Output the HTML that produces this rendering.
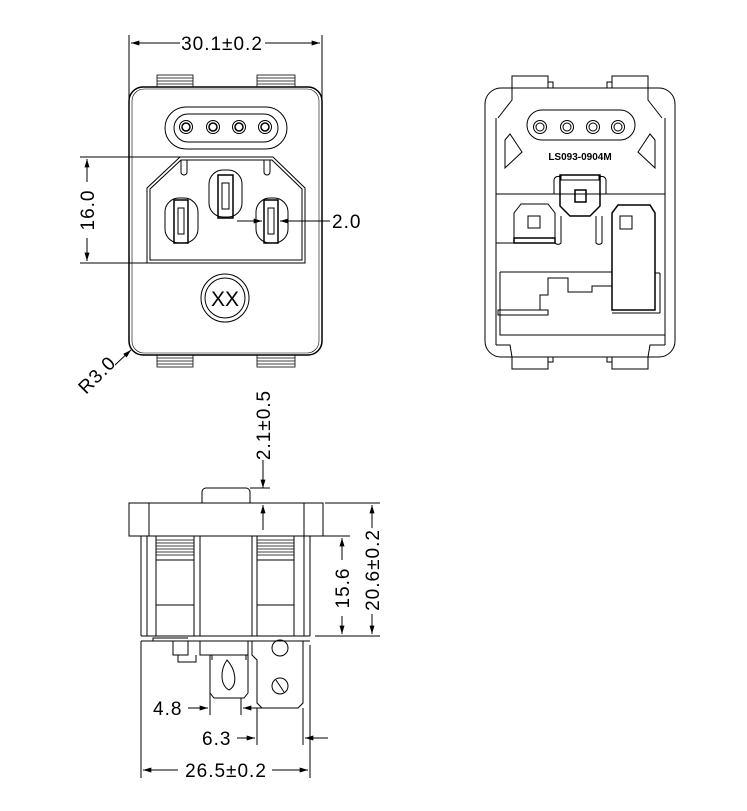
<!DOCTYPE html>
<html><head><meta charset="utf-8"><style>
html,body{margin:0;padding:0;background:#fff;}
svg{display:block;}
text{font-family:"Liberation Sans",sans-serif;fill:#000;}
.d{font-size:19px;letter-spacing:1px;}
</style></head><body>
<svg width="747" height="811" viewBox="0 0 747 811" xmlns="http://www.w3.org/2000/svg">
<defs>
<marker id="a" viewBox="0 0 10 6" refX="10" refY="3" markerWidth="10" markerHeight="5" orient="auto-start-reverse" markerUnits="userSpaceOnUse"><path d="M0,0 L10,3 L0,6z" fill="#000"/></marker>
</defs>
<g fill="none" stroke="#000" stroke-width="1">
<line x1="129" y1="35" x2="129" y2="100"/><line x1="322" y1="35" x2="322" y2="100"/>
<line x1="131" y1="43" x2="180" y2="43" marker-start="url(#a)"/><line x1="265" y1="43" x2="320" y2="43" marker-end="url(#a)"/>
<g stroke-width="0.8">
<rect x="157" y="75" width="36" height="12"/><rect x="257" y="75" width="38" height="12"/>
<rect x="157" y="355" width="36" height="12"/><rect x="257" y="355" width="38" height="12"/>
<line x1="157" y1="78" x2="193" y2="78"/><line x1="157" y1="81" x2="193" y2="81"/><line x1="157" y1="84" x2="193" y2="84"/>
<line x1="257" y1="78" x2="295" y2="78"/><line x1="257" y1="81" x2="295" y2="81"/><line x1="257" y1="84" x2="295" y2="84"/>
<line x1="157" y1="358" x2="193" y2="358"/><line x1="157" y1="361" x2="193" y2="361"/><line x1="157" y1="364" x2="193" y2="364"/>
<line x1="257" y1="358" x2="295" y2="358"/><line x1="257" y1="361" x2="295" y2="361"/><line x1="257" y1="364" x2="295" y2="364"/>
</g>
<rect x="129" y="87" width="193" height="268" rx="14" stroke-width="1.5"/>
<rect x="132" y="89" width="187" height="264" rx="12" stroke-width="0.6"/>
<rect x="165" y="107" width="122" height="42" rx="21"/>
<rect x="174" y="114" width="104" height="28" rx="14"/>
<circle cx="186" cy="127" r="6.5"/><circle cx="186" cy="127" r="4" stroke-width="1.5"/>
<circle cx="213" cy="127" r="6.5"/><circle cx="213" cy="127" r="4" stroke-width="1.5"/>
<circle cx="239" cy="127" r="6.5"/><circle cx="239" cy="127" r="4" stroke-width="1.5"/>
<circle cx="265" cy="127" r="6.5"/><circle cx="265" cy="127" r="4" stroke-width="1.5"/>
<path d="M180,157 L273,157 L305,188 L305,263 L147,263 L147,188 Z"/>
<path d="M181,160 L272,160 L302,189 L302,260 L150,260 L150,189 Z"/>
<path d="M181,160 L181,172 a2,2 0 0 0 6,0 L187,160"/><path d="M264,160 L264,172 a2,2 0 0 0 6,0 L270,160"/>
<rect x="209" y="170" width="33" height="47" rx="14"/><rect x="218" y="175" width="15" height="43" stroke-width="1.5"/><rect x="222" y="183" width="7" height="26"/>
<rect x="165" y="198" width="33" height="45" rx="14"/><rect x="174" y="200" width="14" height="43" stroke-width="1.5"/><rect x="178" y="208" width="6" height="26"/>
<rect x="256" y="198" width="32" height="45" rx="14"/><rect x="264" y="200" width="14" height="43" stroke-width="1.5"/><rect x="268" y="208" width="6" height="26"/>
<line x1="237" y1="221" x2="262" y2="221" marker-end="url(#a)"/><line x1="330" y1="221" x2="280" y2="221" marker-end="url(#a)"/>
<line x1="80" y1="157" x2="180" y2="157"/><line x1="80" y1="263" x2="147" y2="263"/>
<line x1="87" y1="182" x2="87" y2="159" marker-end="url(#a)"/><line x1="87" y1="238" x2="87" y2="261" marker-end="url(#a)"/>
<circle cx="225" cy="298" r="24"/><circle cx="225" cy="298" r="20"/>
<line x1="115" y1="365" x2="131" y2="350" marker-end="url(#a)"/>

<rect x="485" y="88" width="190" height="269" rx="16"/>
<path d="M512,88 L512,76 L548,76 L548,88 M612,88 L612,76 L648,76 L648,88"/>
<path d="M512,357 L512,369 L548,369 L548,357 M612,357 L612,369 L648,369 L648,357"/>
<path d="M512,88 L512,100 L498,118 M648,88 L648,100 L662,118"/>
<path d="M548,76 L548,82 L553,82 L553,88 M612,76 L612,82 L607,82 L607,88"/>
<path d="M548,369 L548,362 L553,362 L553,357 M612,369 L612,362 L607,362 L607,357"/>
<line x1="496" y1="118" x2="496" y2="345"/><line x1="665" y1="118" x2="665" y2="345"/>
<path d="M496,345 L510,345 L512,357 M665,345 L650,345 L648,357"/>
<rect x="527" y="110" width="108" height="30" rx="15"/>
<circle cx="540" cy="127" r="6.5"/><circle cx="540" cy="127" r="4"/>
<circle cx="567" cy="127" r="6.5"/><circle cx="567" cy="127" r="4"/>
<circle cx="593" cy="127" r="6.5"/><circle cx="593" cy="127" r="4"/>
<circle cx="618" cy="127" r="6.5"/><circle cx="618" cy="127" r="4"/>
<path d="M505,140 L510,134 L522,152 L505,168 Z"/>
<path d="M655,140 L650,134 L638,152 L655,168 Z"/>
<line x1="496" y1="194" x2="665" y2="194"/>
<path d="M560,175 L600,175 L600,206 L590,216 L570,216 L560,206 Z" stroke-width="1.5"/>
<rect x="561" y="175" width="38" height="5"/>
<rect x="575" y="190" width="11" height="12" stroke-width="1.5"/>
<path d="M554,194 L554,180 a4,4 0 0 1 6,-3 M606,194 L606,180 a4,4 0 0 0 -6,-3"/>
<path d="M514,243 L514,213 L521,204 L548,204 L555,213 L555,243 Z"/>
<rect x="514" y="238" width="41" height="5" stroke-width="1.5"/>
<rect x="528" y="216" width="12" height="12"/>
<path d="M555,220 L555,243 a4,4 0 0 0 6,0 L561,216 M596,216 L596,243 a4,4 0 0 0 6,0 L602,216"/>
<line x1="496" y1="243" x2="514" y2="243"/>
<path d="M612,310 L612,213 L618,205 L650,205 L655,213 L655,310 Z" stroke-width="1.5"/>
<rect x="620" y="216" width="12" height="13"/>
<path d="M500,272 L612,272 M500,272 L500,335 L665,335"/>
<path d="M498,310 L540,310 L540,295 L548,295 L548,278 L568,278 L568,292 L592,292 L592,286 L612,286"/>
<rect x="498" y="310" width="50" height="5"/>
<line x1="655" y1="273" x2="660" y2="273"/><line x1="660" y1="273" x2="660" y2="313"/><line x1="612" y1="313" x2="660" y2="313"/>

<line x1="263" y1="460" x2="263" y2="488" marker-end="url(#a)"/>
<line x1="250" y1="488" x2="270" y2="488"/>
<line x1="263" y1="530" x2="263" y2="505" marker-end="url(#a)"/>
<path d="M202,503 L202,492 a4,4 0 0 1 4,-4 L246,488 a4,4 0 0 1 4,4 L250,503"/>
<rect x="129" y="503" width="194" height="33"/>
<line x1="149" y1="503" x2="149" y2="536"/><line x1="304" y1="503" x2="304" y2="536"/>
<line x1="141" y1="536" x2="141" y2="636"/><line x1="147" y1="536" x2="147" y2="636"/>
<line x1="304" y1="536" x2="304" y2="636"/><line x1="310" y1="536" x2="310" y2="636"/>
<rect x="156" y="536" width="38" height="100"/><rect x="257" y="536" width="37" height="100"/>
<line x1="200" y1="536" x2="200" y2="636"/><line x1="252" y1="536" x2="252" y2="636"/>
<line x1="156" y1="560" x2="194" y2="560"/><line x1="156" y1="605" x2="194" y2="605"/>
<line x1="257" y1="560" x2="294" y2="560"/><line x1="257" y1="605" x2="294" y2="605"/>
<g stroke-width="0.7">
<line x1="156" y1="540" x2="194" y2="540"/><line x1="156" y1="543" x2="194" y2="543"/><line x1="156" y1="546" x2="194" y2="546"/><line x1="156" y1="549" x2="194" y2="549"/><line x1="156" y1="552" x2="194" y2="552"/><line x1="156" y1="555" x2="194" y2="555"/>
<line x1="257" y1="540" x2="294" y2="540"/><line x1="257" y1="543" x2="294" y2="543"/><line x1="257" y1="546" x2="294" y2="546"/><line x1="257" y1="549" x2="294" y2="549"/><line x1="257" y1="552" x2="294" y2="552"/><line x1="257" y1="555" x2="294" y2="555"/>
</g>
<line x1="141" y1="636" x2="310" y2="636"/>
<line x1="141" y1="641" x2="310" y2="641"/>
<path d="M153,641 L153,638 L188,638 M173,641 L173,655 L188,655 L188,641 M178,655 L178,662 L196,662 L196,655"/>
<path d="M200,641 L200,655 L248,655 L248,641 M210,655 L210,693 L214,698 L244,698 L248,693 L248,655"/>
<path d="M212,655 L212,660 M246,655 L246,660"/>
<path d="M227,660 C220,670 220,685 229,690 C238,685 236,670 227,660 Z"/>
<path d="M252,641 L252,655 L257,660 L257,703 L262,708 L298,708 L303,703 L303,641"/>
<circle cx="280" cy="648" r="8"/><circle cx="280" cy="686" r="8"/><line x1="276" y1="680" x2="284" y2="692"/>
<line x1="325" y1="503" x2="380" y2="503"/><line x1="315" y1="536" x2="350" y2="536"/><line x1="315" y1="636" x2="380" y2="636"/>
<line x1="372" y1="528" x2="372" y2="505" marker-end="url(#a)"/><line x1="372" y1="614" x2="372" y2="634" marker-end="url(#a)"/>
<line x1="342" y1="560" x2="342" y2="538" marker-end="url(#a)"/><line x1="342" y1="616" x2="342" y2="634" marker-end="url(#a)"/>
<line x1="210" y1="693" x2="210" y2="715"/><line x1="241" y1="698" x2="241" y2="715"/>
<line x1="257" y1="708" x2="257" y2="745"/><line x1="303" y1="708" x2="303" y2="745"/>
<line x1="141" y1="641" x2="141" y2="778"/><line x1="310" y1="645" x2="310" y2="778"/>
<line x1="188" y1="708" x2="208" y2="708" marker-end="url(#a)"/><line x1="264" y1="708" x2="243" y2="708" marker-end="url(#a)"/>
<line x1="237" y1="738" x2="255" y2="738" marker-end="url(#a)"/><line x1="328" y1="738" x2="305" y2="738" marker-end="url(#a)"/>
<line x1="178" y1="770" x2="143" y2="770" marker-end="url(#a)"/><line x1="272" y1="770" x2="308" y2="770" marker-end="url(#a)"/>
</g>
<text x="222" y="50" class="d" text-anchor="middle">30.1±0.2</text>
<text x="332" y="228" class="d">2.0</text>
<text transform="translate(94,210) rotate(-90)" class="d" text-anchor="middle">16.0</text>
<text x="225" y="306" font-size="21" text-anchor="middle">XX</text>
<text transform="translate(86,395) rotate(-45)" class="d">R3.0</text>
<text x="580" y="160" font-size="10" font-weight="bold" text-anchor="middle">LS093-0904M</text>
<text transform="translate(270,425) rotate(-90)" class="d" text-anchor="middle">2.1±0.5</text>
<text transform="translate(349,588) rotate(-90)" class="d" text-anchor="middle">15.6</text>
<text transform="translate(379,570) rotate(-90)" class="d" text-anchor="middle">20.6±0.2</text>
<text x="153" y="715" class="d">4.8</text>
<text x="202" y="745" class="d">6.3</text>
<text x="226" y="777" class="d" text-anchor="middle">26.5±0.2</text>
</svg>
</body></html>
